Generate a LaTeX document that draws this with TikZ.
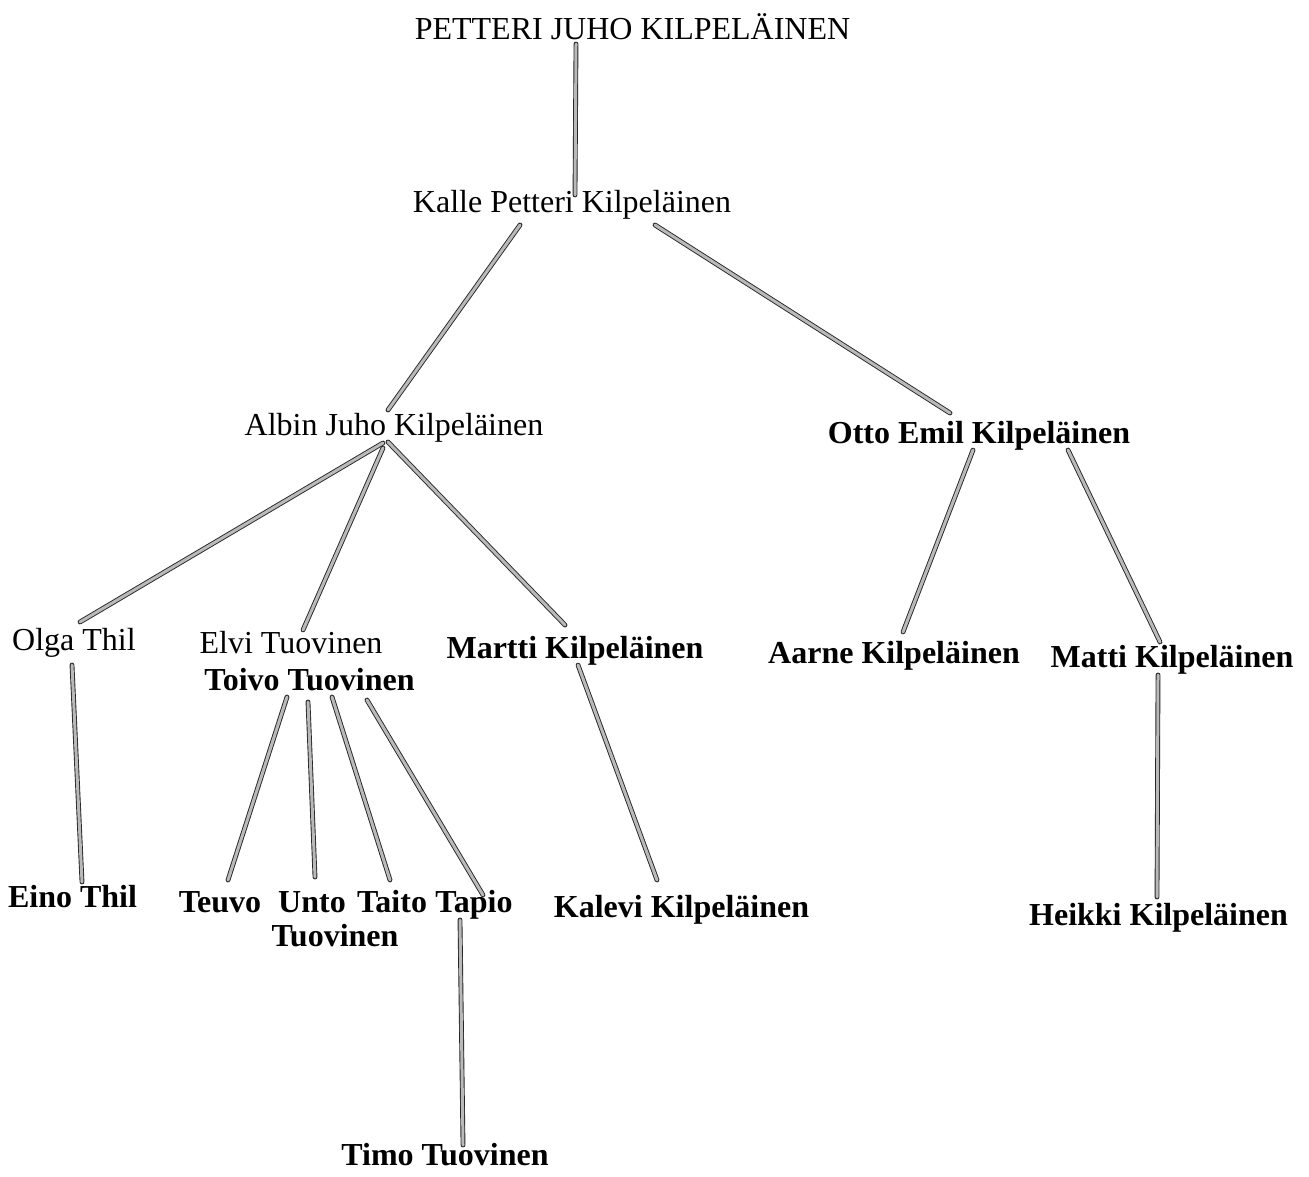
\documentclass[tikz,border=0pt]{standalone}
\usepackage{fontspec}
\setmainfont{Liberation Serif}
\usetikzlibrary{calc}
\tikzset{
  lbl/.style={inner sep=0pt, anchor=base, font=\fontsize{16}{19}\selectfont},
  blbl/.style={inner sep=0pt, anchor=base, font=\fontsize{16}{19}\selectfont\bfseries},
  link/.style={draw=black!85, line width=0.45pt, double=gray!55, double distance=1.5pt, line cap=round}
}
\begin{document}
\begin{tikzpicture}[x=0.5pt,y=-0.5pt]
\useasboundingbox[fill=white] (0,0) rectangle (1309,1176);
% nodes (positioned at text baseline)
\node[lbl]  (petteri) at (632.5,40)  {PETTERI JUHO KILPELÄINEN};
\node[lbl]  (kalle)   at (572,213)   {Kalle Petteri Kilpeläinen};
\node[lbl]  (albin)   at (394,435)   {Albin Juho Kilpeläinen};
\node[blbl] (otto)    at (979,443)   {Otto Emil Kilpeläinen};
\node[lbl]  (olga)    at (74,650)    {Olga Thil};
\node[lbl]  (elvi)    at (291,653)   {Elvi Tuovinen};
\node[blbl] (toivo)   at (309.5,690) {Toivo Tuovinen};
\node[blbl] (martti)  at (575,658)   {Martti Kilpeläinen};
\node[blbl] (aarne)   at (894,663)   {Aarne Kilpeläinen};
\node[blbl] (matti)   at (1172,667)  {Matti Kilpeläinen};
\node[blbl] (eino)    at (72.5,907)  {Eino Thil};
\node[blbl] (teuvo)   at (220,912)   {Teuvo};
\node[blbl] (unto)    at (312,912)   {Unto};
\node[blbl] (taito)   at (392,912)   {Taito};
\node[blbl] (tapio)   at (474,912)   {Tapio};
\node[blbl] (tuov)    at (335,946)   {Tuovinen};
\node[blbl] (kalevi)  at (681.5,917) {Kalevi Kilpeläinen};
\node[blbl] (heikki)  at (1158.5,925){Heikki Kilpeläinen};
\node[blbl] (timo)    at (445,1165)  {Timo Tuovinen};
% connectors
\draw[link] ($(petteri.base)+(-56.5,4)$) -- ($(kalle.base)+(3,-18)$);
\draw[link] ($(kalle.base)+(-52,12)$) -- ($(albin.base)+(-6,-25)$);
\draw[link] ($(kalle.base)+(83,12)$) -- ($(otto.base)+(-29,-30)$);
\draw[link] ($(albin.base)+(-11,8)$) -- ($(olga.base)+(6,-28)$);
\draw[link] ($(albin.base)+(-11,13)$) -- ($(elvi.base)+(12,-23)$);
\draw[link] ($(albin.base)+(-6,7)$) -- ($(martti.base)+(-10,-33)$);
\draw[link] ($(otto.base)+(-6,7)$) -- ($(aarne.base)+(9,-31)$);
\draw[link] ($(otto.base)+(89,7)$) -- ($(matti.base)+(-12,-25)$);
\draw[link] ($(olga.base)+(-2,15)$) -- ($(eino.base)+(9.5,-25)$);
\draw[link] ($(toivo.base)+(-22.5,7)$) -- ($(teuvo.base)+(8,-32)$);
\draw[link] ($(toivo.base)+(-1.5,12)$) -- ($(unto.base)+(3,-35)$);
\draw[link] ($(toivo.base)+(22.5,7)$) -- ($(taito.base)+(-2,-32)$);
\draw[link] ($(toivo.base)+(57.5,10)$) -- ($(tapio.base)+(9,-17)$);
\draw[link] ($(tapio.base)+(-14,8)$) -- ($(timo.base)+(18,-20)$);
\draw[link] ($(martti.base)+(3,7)$) -- ($(kalevi.base)+(-24.5,-37)$);
\draw[link] ($(matti.base)+(-14,8)$) -- ($(heikki.base)+(-1.5,-28)$);
\end{tikzpicture}
\end{document}
